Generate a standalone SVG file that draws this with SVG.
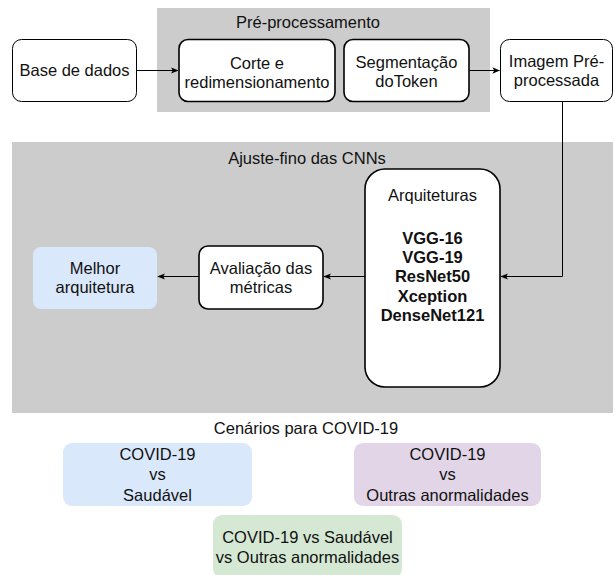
<svg xmlns="http://www.w3.org/2000/svg" width="615" height="575" viewBox="0 0 615 575">
<defs>
<marker id="arr" viewBox="0 0 10 10" refX="9" refY="5" markerWidth="8" markerHeight="8" markerUnits="userSpaceOnUse" orient="auto">
<path d="M0,1 L10,5 L0,9 L2.5,5 Z" fill="#000"/>
</marker>
<style>
text{font-family:"Liberation Sans",Arial,Helvetica,sans-serif;font-size:16.5px;fill:#111;text-anchor:middle}
.b{font-weight:bold}
.grp{fill:#cccccc;stroke:none}
.n1{fill:#fff;stroke:#000;stroke-width:1}
.n2{fill:#fff;stroke:#000;stroke-width:1.6}
.edge{fill:none;stroke:#000;stroke-width:1;marker-end:url(#arr)}
</style>
</defs>
<g id="grupo-preprocessamento">
<rect class="grp" x="157" y="8" width="333" height="104"/>
<text x="308" y="28">Pré-processamento</text>
</g>
<g id="grupo-ajuste">
<rect class="grp" x="12" y="142" width="601" height="271"/>
<text x="307" y="164">Ajuste-fino das CNNs</text>
</g>
<g id="base-dados">
<rect class="n1" x="12.5" y="39.5" width="124" height="62" rx="9"/>
<text x="74.5" y="76">Base de dados</text>
</g>
<g id="corte">
<rect class="n2" x="179" y="39.5" width="156" height="62" rx="9"/>
<text x="257" y="69">Corte e</text>
<text x="257" y="88">redimensionamento</text>
</g>
<g id="segmentacao">
<rect class="n2" x="344" y="39.5" width="125" height="62" rx="9"/>
<text x="406.5" y="68">Segmentação</text>
<text x="406.5" y="87">doToken</text>
</g>
<g id="imagem">
<rect class="n1" x="500.5" y="39.5" width="112" height="62" rx="9"/>
<text x="556.5" y="67">Imagem Pré-</text>
<text x="556.5" y="86">processada</text>
</g>
<g id="arquiteturas">
<rect class="n2" x="365" y="169" width="135" height="218" rx="20"/>
<text x="432.5" y="201">Arquiteturas</text>
<text class="b" x="432.5" y="244">VGG-16</text>
<text class="b" x="432.5" y="263">VGG-19</text>
<text class="b" x="432.5" y="282">ResNet50</text>
<text class="b" x="432.5" y="301.5">Xception</text>
<text class="b" x="432.5" y="321">DenseNet121</text>
</g>
<g id="avaliacao">
<rect class="n2" x="199" y="246" width="124" height="63" rx="9"/>
<text x="261" y="274">Avaliação das</text>
<text x="261" y="293">métricas</text>
</g>
<g id="melhor">
<rect x="33" y="247" width="124" height="62" rx="8" fill="#dae8fc"/>
<text x="95" y="274">Melhor</text>
<text x="95" y="293">arquitetura</text>
</g>
<g id="cenarios-titulo">
<text x="306" y="434">Cenários para COVID-19</text>
</g>
<g id="cenario-saudavel">
<rect x="63" y="443" width="189" height="63" rx="9" fill="#dae8fc"/>
<text x="157.5" y="460">COVID-19</text>
<text x="157.5" y="480">vs</text>
<text x="157.5" y="500.5">Saudável</text>
</g>
<g id="cenario-outras">
<rect x="354" y="443" width="187" height="63" rx="9" fill="#e1d5e7"/>
<text x="447.5" y="460">COVID-19</text>
<text x="447.5" y="480">vs</text>
<text x="447.5" y="500.5">Outras anormalidades</text>
</g>
<g id="cenario-tres">
<rect x="213" y="515" width="189" height="63" rx="9" fill="#d5e8d4"/>
<text x="307.5" y="543">COVID-19 vs Saudável</text>
<text x="307.5" y="563">vs Outras anormalidades</text>
</g>
<g id="connectors">
<path class="edge" d="M136.5,70.5 L178,70.5"/>
<path class="edge" d="M469,70.5 L499.5,70.5"/>
<path class="edge" d="M562.5,101.5 L562.5,276.5 L501,276.5"/>
<path class="edge" d="M365,276.5 L324,276.5"/>
<path class="edge" d="M199,276.5 L158,276.5"/>
</g>
</svg>
